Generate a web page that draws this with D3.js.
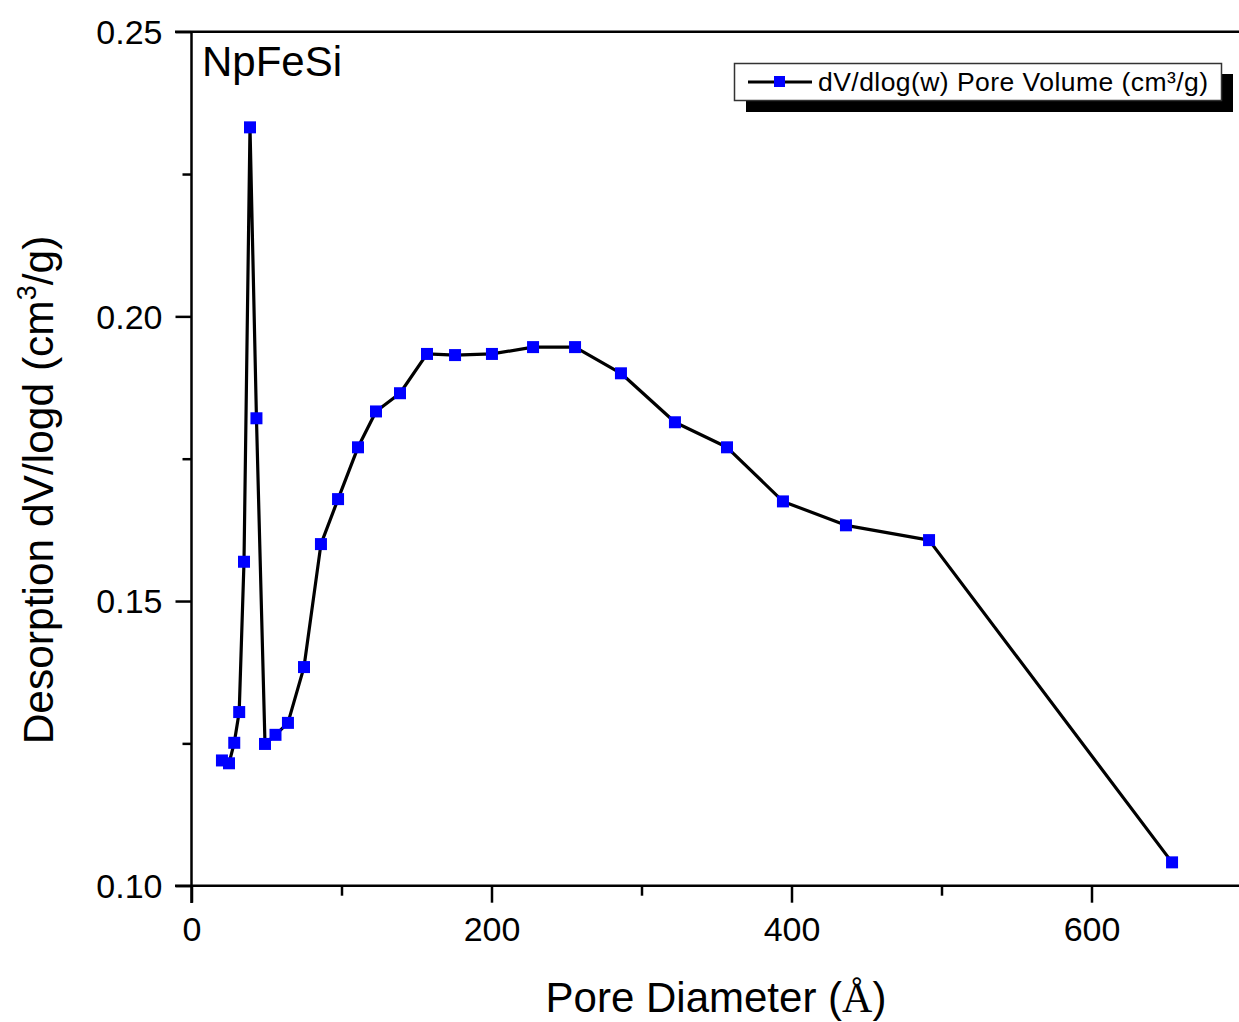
<!DOCTYPE html>
<html>
<head>
<meta charset="utf-8">
<script src="https://cdn.jsdelivr.net/npm/d3@7"></script>
<style>
  body { margin: 0; background: #fff; }
  svg { display: block; font-family: "Liberation Sans", Arial, sans-serif; }
</style>
</head>
<body>
<div id="chart"></div>
<script>
// pore diameter (Å) and desorption dV/logd (cm3/g)
var diameter = [20.3, 25, 28.5, 31.8, 35, 39, 43.3, 49, 56, 64.3, 75, 86.3, 97.7, 111, 123, 139,
  157, 175.7, 200.3, 227.7, 255.7, 286.3, 322.3, 357, 394.3, 436.3, 491.7, 653.7];
var volume = [0.1220, 0.1215, 0.1251, 0.1305, 0.1569, 0.2332, 0.1821, 0.1249, 0.1265, 0.1286,
  0.1384, 0.1600, 0.1679, 0.1770, 0.1833, 0.1865, 0.1934, 0.1932, 0.1934, 0.1946, 0.1946,
  0.1900, 0.1814, 0.1770, 0.1675, 0.1633, 0.1607, 0.1041];

var xMajor = [0, 200, 400, 600];
var xMinor = [100, 300, 500];
var yMajor = [0.10, 0.15, 0.20, 0.25];
var yMinor = [0.125, 0.175, 0.225];

var width = 1239, height = 1022;

var svg = d3.select("#chart").append("svg")
  .attr("width", width)
  .attr("height", height);

var x = d3.scaleLinear().domain([0, 700]).range([191.5, 1241.5]);
var y = d3.scaleLinear().domain([0.10, 0.25]).range([885.7, 31.7]);

var data = diameter.map(function (d, i) { return { d: d, v: volume[i] }; });

// frame lines
svg.append("line").attr("x1", 175).attr("x2", width).attr("y1", y(0.10)).attr("y2", y(0.10))
  .attr("stroke", "#000").attr("stroke-width", 2.5);
svg.append("line").attr("x1", 175).attr("x2", width).attr("y1", y(0.25)).attr("y2", y(0.25))
  .attr("stroke", "#000").attr("stroke-width", 2.5);
svg.append("line").attr("x1", x(0)).attr("x2", x(0)).attr("y1", y(0.25)).attr("y2", 903)
  .attr("stroke", "#000").attr("stroke-width", 2.5);

// x axis
var xAxis = svg.append("g").attr("transform", "translate(0," + y(0.10) + ")")
  .call(d3.axisBottom(x).tickValues(xMajor).tickSize(17).tickPadding(14).tickFormat(d3.format("d")));
var xAxisMinor = svg.append("g").attr("transform", "translate(0," + y(0.10) + ")")
  .call(d3.axisBottom(x).tickValues(xMinor).tickSize(10).tickFormat(""));

// y axis
var yAxis = svg.append("g").attr("transform", "translate(" + x(0) + ",0)")
  .call(d3.axisLeft(y).tickValues(yMajor).tickSize(16).tickPadding(13).tickFormat(d3.format(".2f")));
var yAxisMinor = svg.append("g").attr("transform", "translate(" + x(0) + ",0)")
  .call(d3.axisLeft(y).tickValues(yMinor).tickSize(9).tickFormat(""));

[xAxis, xAxisMinor, yAxis, yAxisMinor].forEach(function (g) {
  g.select(".domain").remove();
  g.selectAll(".tick line").attr("stroke", "#000").attr("stroke-width", 2.5);
  g.selectAll(".tick text").attr("fill", "#000")
    .style("font-family", "Liberation Sans, Arial, sans-serif").style("font-size", "34px");
});
yAxis.selectAll(".tick text").attr("dy", "0.35em");

// axis titles
svg.append("text")
  .attr("x", 716).attr("y", 1012)
  .attr("text-anchor", "middle")
  .style("font-size", "42px")
  .html('Pore Diameter (<tspan style="font-family: \'Liberation Serif\', serif">Å</tspan>)');

svg.append("text")
  .attr("transform", "translate(53,490) rotate(-90)")
  .attr("text-anchor", "middle")
  .style("font-size", "42.5px")
  .html('Desorption dV/logd (cm<tspan dy="-17" style="font-size:27px">3</tspan><tspan dy="17">/g)</tspan>');

// sample label
svg.append("text").attr("x", 202).attr("y", 76).style("font-size", "42px").text("NpFeSi");

// line + markers
var line = d3.line().x(function (d) { return x(d.d); }).y(function (d) { return y(d.v); });

svg.append("path").datum(data)
  .attr("d", line)
  .attr("fill", "none")
  .attr("stroke", "#000")
  .attr("stroke-width", 3.2)
  .attr("stroke-linejoin", "round");

var ms = 12;
svg.selectAll(".pt").data(data).enter().append("rect")
  .attr("class", "pt")
  .attr("x", function (d) { return x(d.d) - ms / 2; })
  .attr("y", function (d) { return y(d.v) - ms / 2; })
  .attr("width", ms).attr("height", ms)
  .attr("fill", "#0000ff");

// legend
var lg = svg.append("g");
lg.append("rect").attr("x", 746).attr("y", 74).attr("width", 487).attr("height", 38).attr("fill", "#000");
lg.append("rect").attr("x", 734.5).attr("y", 63.5).attr("width", 487).attr("height", 37)
  .attr("fill", "#fff").attr("stroke", "#333").attr("stroke-width", 1.5);
lg.append("line").attr("x1", 748).attr("x2", 812).attr("y1", 82).attr("y2", 82)
  .attr("stroke", "#000").attr("stroke-width", 3.2);
lg.append("rect").attr("x", 774).attr("y", 76).attr("width", 11).attr("height", 11).attr("fill", "#0000ff");
lg.append("text").attr("x", 818).attr("y", 91).style("font-size", "26.5px")
  .attr("textLength", 390).attr("lengthAdjust", "spacing")
  .text("dV/dlog(w) Pore Volume (cm³/g)");
</script>
</body>
</html>
